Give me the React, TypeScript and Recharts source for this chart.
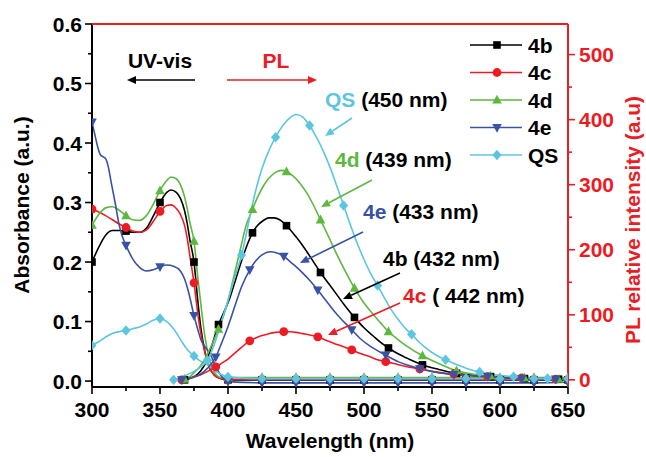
import React from 'react';
import { ComposedChart, Line, XAxis, YAxis } from 'recharts';

const RED = '#ec1c24';
const BLACK = '#000000';
const GREEN = '#5db83f';
const BLUE = '#3a52a4';
const CYAN = '#5cc6e0';
const FONT = '"Liberation Sans", Arial, sans-serif';

const wavelengthTicks = [300, 325, 350, 375, 400, 425, 450, 475, 500, 525, 550, 575, 600, 625, 650];
const absTicks = [0, 0.05, 0.1, 0.15, 0.2, 0.25, 0.3, 0.35, 0.4, 0.45, 0.5, 0.55, 0.6];
const plTicks = [0, 50, 100, 150, 200, 250, 300, 350, 400, 450, 500];

// UV-vis absorbance (left axis)
const abs4b: [number, number][] = [
  [300, 0.2], [305, 0.225], [310, 0.245], [315, 0.253], [320, 0.253], [325, 0.252], [330, 0.25], [335, 0.25],
  [340, 0.257], [345, 0.277], [350, 0.3], [355, 0.317], [358, 0.321], [362, 0.317], [365, 0.307], [368, 0.287],
  [370, 0.265], [372, 0.237], [375, 0.2], [378, 0.13], [380, 0.09], [383, 0.05], [386, 0.025], [390, 0.01],
  [395, 0.004], [400, 0.002], [425, 0.002], [450, 0.002], [475, 0.002], [500, 0.002], [525, 0.002], [550, 0.002],
  [575, 0.002], [600, 0.002], [625, 0.002], [650, 0.002],
];
const abs4c: [number, number][] = [
  [300, 0.289], [305, 0.284], [310, 0.278], [315, 0.271], [320, 0.264], [325, 0.258], [330, 0.252], [335, 0.25],
  [340, 0.254], [345, 0.268], [350, 0.285], [355, 0.295], [358, 0.296], [362, 0.29], [365, 0.28], [368, 0.262],
  [370, 0.24], [372, 0.21], [375, 0.165], [378, 0.11], [380, 0.08], [383, 0.048], [386, 0.025], [390, 0.01],
  [395, 0.004], [400, 0.003], [425, 0.003], [450, 0.003], [475, 0.003], [500, 0.003], [525, 0.003], [550, 0.003],
  [575, 0.003], [600, 0.003], [625, 0.003], [650, 0.003],
];
const abs4d: [number, number][] = [
  [300, 0.262], [305, 0.28], [310, 0.291], [315, 0.293], [320, 0.287], [325, 0.278], [330, 0.271], [335, 0.27],
  [340, 0.278], [345, 0.297], [350, 0.32], [355, 0.337], [358, 0.343], [362, 0.34], [365, 0.33], [368, 0.31],
  [370, 0.29], [372, 0.266], [375, 0.235], [378, 0.17], [380, 0.13], [383, 0.075], [386, 0.04], [390, 0.015],
  [395, 0.006], [400, 0.006], [425, 0.006], [450, 0.006], [475, 0.006], [500, 0.006], [525, 0.006], [550, 0.006],
  [575, 0.006], [600, 0.006], [625, 0.006], [650, 0.006],
];
const abs4e: [number, number][] = [
  [300, 0.435], [302, 0.415], [304, 0.395], [306, 0.381], [308, 0.377], [310, 0.374], [312, 0.36], [314, 0.335],
  [317, 0.3], [320, 0.262], [322, 0.245], [325, 0.228], [330, 0.205], [335, 0.191], [340, 0.185], [345, 0.187],
  [350, 0.192], [355, 0.195], [360, 0.193], [365, 0.185], [368, 0.172], [370, 0.158], [372, 0.14], [375, 0.11],
  [378, 0.085], [380, 0.07], [383, 0.058], [387, 0.045], [390, 0.03], [393, 0.016], [396, 0.006], [400, -0.001],
  [425, -0.003], [450, -0.003], [475, -0.003], [500, -0.003], [525, -0.003], [550, -0.003], [575, -0.003],
  [600, -0.003], [625, -0.003], [650, -0.002],
];
const absQS: [number, number][] = [
  [300, 0.06], [305, 0.066], [310, 0.074], [315, 0.08], [320, 0.083], [325, 0.085], [330, 0.088], [335, 0.091],
  [340, 0.096], [345, 0.102], [350, 0.105], [355, 0.1], [360, 0.088], [365, 0.07], [370, 0.053], [375, 0.042],
  [380, 0.033], [385, 0.027], [390, 0.018], [395, 0.011], [400, 0.007], [425, 0.004], [450, 0.004], [475, 0.004],
  [500, 0.004], [525, 0.004], [550, 0.004], [575, 0.004], [600, 0.004], [625, 0.004], [650, 0.004],
];

// PL relative intensity (right axis)
const pl4b: [number, number][] = [
  [368, 0], [372, 2], [376, 6], [380, 14], [384, 28], [388, 52], [393, 85], [397, 104], [401, 124], [405, 150],
  [410, 183], [414, 207], [418, 226], [422, 238], [426, 245], [430, 249], [434, 249], [438, 246], [443, 237],
  [448, 225], [453, 212], [458, 197], [463, 181], [468, 165], [474, 148], [480, 131], [486, 114], [493, 96],
  [500, 80], [507, 67], [512, 58], [518, 49], [525, 40], [532, 33], [543, 23], [555, 16], [568, 10], [580, 7],
  [593, 5], [605, 3], [618, 2], [630, 2], [643, 1], [650, 1],
];
const pl4c: [number, number][] = [
  [366, 0], [370, 2], [375, 5], [380, 8], [385, 13], [391, 20], [395, 25], [400, 32], [405, 41], [410, 50],
  [416, 60], [420, 64], [425, 68], [430, 71], [435, 73], [441, 74], [446, 74], [450, 73], [455, 71], [460, 69],
  [466, 66], [472, 61], [478, 56], [485, 51], [491, 46], [498, 40], [505, 35], [510, 31], [516, 28], [522, 25],
  [530, 21], [541, 17], [550, 13], [560, 10], [566, 9], [575, 7], [591, 5], [605, 3], [616, 3], [630, 2],
  [641, 1], [650, 1],
];
const pl4d: [number, number][] = [
  [366, 0], [368, 1], [372, 5], [376, 13], [380, 22], [385, 40], [389, 58], [393, 78], [397, 100], [401, 130],
  [405, 165], [409, 200], [413, 235], [418, 262], [422, 282], [426, 298], [430, 310], [435, 319], [439, 322],
  [443, 320], [448, 313], [453, 302], [458, 287], [463, 268], [468, 246], [474, 220], [480, 193], [486, 168],
  [493, 141], [500, 118], [507, 100], [512, 88], [518, 74], [525, 62], [532, 51], [543, 37], [555, 25], [568, 14],
  [580, 9], [593, 6], [605, 4], [618, 3], [630, 2], [643, 1], [650, 1],
];
const pl4e: [number, number][] = [
  [366, 0], [370, 2], [375, 4], [380, 9], [385, 18], [391, 35], [395, 55], [400, 82], [405, 113], [410, 143],
  [416, 169], [420, 182], [425, 192], [431, 197], [436, 195], [441, 190], [446, 181], [450, 174], [455, 164],
  [460, 153], [466, 138], [472, 122], [478, 106], [483, 94], [491, 77], [498, 62], [505, 51], [516, 38], [525, 28],
  [533, 22], [541, 17], [555, 11], [566, 8], [580, 6], [591, 5], [605, 3], [616, 2], [630, 2], [641, 1], [650, 1],
];
const plQS: [number, number][] = [
  [360, 0], [365, 3], [370, 8], [375, 13], [380, 20], [385, 30], [390, 55], [395, 88], [400, 122], [405, 158],
  [410, 192], [415, 240], [420, 288], [425, 325], [430, 352], [435, 373], [440, 390], [445, 402], [450, 408],
  [455, 404], [460, 391], [465, 373], [470, 352], [475, 327], [480, 298], [485, 268], [490, 238], [495, 210],
  [500, 185], [505, 163], [510, 145], [515, 126], [520, 108], [525, 93], [530, 80], [535, 70], [540, 59],
  [545, 50], [550, 42], [555, 36], [560, 31], [570, 22], [575, 18], [585, 12], [590, 10], [600, 7], [610, 5],
  [620, 3], [635, 2], [650, 1],
];

// marker positions (nm)
const uvMarks = [300, 325, 350, 375, 400, 425, 450, 475, 500, 525, 550, 575, 600, 625, 650];
const plMarksQS = [360, 385, 410, 435, 460, 485, 510, 535, 560, 585, 610, 635];
const plMarks4b = [368, 393, 418, 443, 468, 493, 518, 543, 568, 593, 618, 643];
const plMarks4d = [368, 393, 418, 443, 468, 493, 518, 543, 568, 593, 618, 643];
const plMarks4e = [366, 391, 416, 441, 466, 491, 516, 541, 566, 591, 616, 641];
const plMarks4c = [366, 391, 416, 441, 466, 491, 516, 541, 566, 591, 616, 641];

const seriesNames = ['4b', '4c', '4d', '4e', 'QS'];

type Shape = 'square' | 'circle' | 'up' | 'down' | 'diamond';

const MarkerShape = ({ shape, cx, cy, color }: { shape: Shape; cx: number; cy: number; color: string }) => {
  if (shape === 'square') return <rect x={cx - 3.8} y={cy - 3.8} width={7.6} height={7.6} fill={color} />;
  if (shape === 'circle') return <circle cx={cx} cy={cy} r={4.4} fill={color} />;
  if (shape === 'up')
    return <polygon points={`${cx},${cy - 5.2} ${cx - 4.8},${cy + 3.6} ${cx + 4.8},${cy + 3.6}`} fill={color} />;
  if (shape === 'down')
    return <polygon points={`${cx},${cy + 5.2} ${cx - 4.8},${cy - 3.6} ${cx + 4.8},${cy - 3.6}`} fill={color} />;
  return <polygon points={`${cx},${cy - 5.2} ${cx + 4.6},${cy} ${cx},${cy + 5.2} ${cx - 4.6},${cy}`} fill={color} />;
};

const toData = (pts: [number, number][]) => pts.map(([x, y]) => ({ x, y }));

const makeDot = (shape: Shape, color: string, marks: number[]) => (props: any) => {
  const { cx, cy, payload, index } = props;
  if (cx == null || cy == null || !payload || !marks.includes(payload.x)) return <g key={`n${index}`} />;
  return (
    <g key={`d${index}`}>
      <MarkerShape shape={shape} cx={cx} cy={cy} color={color} />
    </g>
  );
};

const LeftTick = (props: any) => {
  const { x, y, payload } = props;
  const v = payload.value as number;
  const major = Math.round(v * 100) % 10 === 0;
  return (
    <g>
      <line x1={x} x2={x - (major ? 7 : 4)} y1={y} y2={y} stroke={BLACK} strokeWidth={1.6} />
      {major && (
        <text x={x - 10} y={y + 7.5} textAnchor="end" fontFamily={FONT} fontWeight="bold" fontSize={21} fill={BLACK}>
          {v.toFixed(1)}
        </text>
      )}
    </g>
  );
};

const RightTick = (props: any) => {
  const { x, y, payload } = props;
  const v = payload.value as number;
  const major = v % 100 === 0;
  return (
    <g>
      <line x1={x} x2={x + (major ? 7 : 4)} y1={y} y2={y} stroke={RED} strokeWidth={1.6} />
      {major && (
        <text x={x + 11} y={y + 7.5} textAnchor="start" fontFamily={FONT} fontWeight="bold" fontSize={21} fill={RED}>
          {v}
        </text>
      )}
    </g>
  );
};

const BottomTick = (props: any) => {
  const { x, y, payload } = props;
  const v = payload.value as number;
  const major = v % 50 === 0;
  return (
    <g>
      <line x1={x} x2={x} y1={y} y2={y + (major ? 7 : 4)} stroke={BLACK} strokeWidth={1.6} />
      {major && (
        <text x={x} y={y + 30} textAnchor="middle" fontFamily={FONT} fontWeight="bold" fontSize={21} fill={BLACK}>
          {v}
        </text>
      )}
    </g>
  );
};

const Arrow = ({ x1, y1, x2, y2, color }: { x1: number; y1: number; x2: number; y2: number; color: string }) => {
  const dx = x2 - x1;
  const dy = y2 - y1;
  const len = Math.sqrt(dx * dx + dy * dy);
  const ux = dx / len;
  const uy = dy / len;
  const hl = 9;
  const hw = 4;
  const bx = x2 - ux * hl;
  const by = y2 - uy * hl;
  return (
    <g>
      <line x1={x1} y1={y1} x2={bx} y2={by} stroke={color} strokeWidth={1.6} />
      <polygon
        points={`${x2},${y2} ${bx - uy * hw},${by + ux * hw} ${bx + uy * hw},${by - ux * hw}`}
        fill={color}
      />
    </g>
  );
};

const uvSeries = [
  { name: seriesNames[0], pts: abs4b, color: BLACK, shape: 'square' as Shape },
  { name: seriesNames[1], pts: abs4c, color: RED, shape: 'circle' as Shape },
  { name: seriesNames[2], pts: abs4d, color: GREEN, shape: 'up' as Shape },
  { name: seriesNames[3], pts: abs4e, color: BLUE, shape: 'down' as Shape },
  { name: seriesNames[4], pts: absQS, color: CYAN, shape: 'diamond' as Shape },
];
const plSeries = [
  { name: seriesNames[0], pts: pl4b, marks: plMarks4b, color: BLACK, shape: 'square' as Shape },
  { name: seriesNames[1], pts: pl4c, marks: plMarks4c, color: RED, shape: 'circle' as Shape },
  { name: seriesNames[2], pts: pl4d, marks: plMarks4d, color: GREEN, shape: 'up' as Shape },
  { name: seriesNames[3], pts: pl4e, marks: plMarks4e, color: BLUE, shape: 'down' as Shape },
  { name: seriesNames[4], pts: plQS, marks: plMarksQS, color: CYAN, shape: 'diamond' as Shape },
];

const T = (p: any) => <text fontFamily={FONT} fontWeight="bold" fontSize={21} {...p} />;

export default function App() {
  return (
    <div style={{ position: 'absolute', left: 0, top: 0, width: 646, height: 457, background: '#fff' }}>
      <ComposedChart width={646} height={457} margin={{ top: 24, right: 28, bottom: 40, left: 32 }}>
        <XAxis
          type="number"
          dataKey="x"
          domain={[300, 650]}
          ticks={wavelengthTicks}
          allowDataOverflow
          height={30}
          tickSize={0}
          tickMargin={0}
          tickLine={false}
          tick={BottomTick}
          axisLine={{ stroke: BLACK, strokeWidth: 2 }}
          interval={0}
        />
        <YAxis
          yAxisId="abs"
          orientation="left"
          domain={[-0.01, 0.6]}
          ticks={absTicks}
          allowDataOverflow
          width={60}
          tickSize={0}
          tickMargin={0}
          tickLine={false}
          tick={LeftTick}
          axisLine={{ stroke: BLACK, strokeWidth: 2 }}
          interval={0}
        />
        <YAxis
          yAxisId="pl"
          orientation="right"
          domain={[-11, 547]}
          ticks={plTicks}
          allowDataOverflow
          width={50}
          tickSize={0}
          tickMargin={0}
          tickLine={false}
          tick={RightTick}
          axisLine={{ stroke: RED, strokeWidth: 2 }}
          interval={0}
        />
        {uvSeries.map((s) => (
          <Line
            key={`uv-${s.name}`}
            yAxisId="abs"
            data={toData(s.pts)}
            dataKey="y"
            type="monotone"
            stroke={s.color}
            strokeWidth={1.6}
            dot={makeDot(s.shape, s.color, uvMarks)}
            activeDot={false}
            isAnimationActive={false}
            legendType="none"
          />
        ))}
        {plSeries.map((s) => (
          <Line
            key={`pl-${s.name}`}
            yAxisId="pl"
            data={toData(s.pts)}
            dataKey="y"
            type="monotone"
            stroke={s.color}
            strokeWidth={1.6}
            dot={makeDot(s.shape, s.color, s.marks)}
            activeDot={false}
            isAnimationActive={false}
            legendType="none"
          />
        ))}
      </ComposedChart>
      <svg
        width={646}
        height={457}
        style={{ position: 'absolute', left: 0, top: 0, pointerEvents: 'none' }}
      >
        <line x1={92} x2={568} y1={24} y2={24} stroke={RED} strokeWidth={2} />
        {/* axis titles */}
        <T x={0} y={0} transform="translate(29,205) rotate(-90)" textAnchor="middle" fill={BLACK}>
          Absorbance (a.u.)
        </T>
        <T x={0} y={0} transform="translate(640,220) rotate(-90)" textAnchor="middle" fill={RED}>
          PL relative intensity (a.u)
        </T>
        <T x={330} y={448} textAnchor="middle" fill={BLACK}>
          Wavelength (nm)
        </T>
        {/* UV-vis / PL */}
        <T x={160} y={68} textAnchor="middle" fill={BLACK}>UV-vis</T>
        <Arrow x1={195} y1={80} x2={127} y2={80} color={BLACK} />
        <T x={276} y={68} textAnchor="middle" fill={RED}>PL</T>
        <Arrow x1={227} y1={80} x2={317} y2={80} color={RED} />
        {/* peak annotations */}
        <T x={325} y={107} fill={BLACK}>
          <tspan fill={CYAN}>QS</tspan> (450 nm)
        </T>
        <Arrow x1={352} y1={118} x2={325} y2={136} color={CYAN} />
        <T x={335} y={167} fill={BLACK}>
          <tspan fill={GREEN}>4d</tspan> (439 nm)
        </T>
        <Arrow x1={372} y1={180} x2={321} y2={207} color={GREEN} />
        <T x={363} y={219} fill={BLACK}>
          <tspan fill={BLUE}>4e</tspan> (433 nm)
        </T>
        <Arrow x1={363} y1={232} x2={300} y2={263} color={BLUE} />
        <T x={383} y={266} fill={BLACK}>4b (432 nm)</T>
        <Arrow x1={400} y1={273} x2={343} y2={299} color={BLACK} />
        <T x={403} y={303} fill={BLACK}>
          <tspan fill={RED}>4c</tspan> ( 442 nm)
        </T>
        <Arrow x1={400} y1={303} x2={328} y2={335} color={RED} />
        {/* legend */}
        {plSeries.map((s, i) => {
          const y = 45 + i * 27.5;
          return (
            <g key={`lg-${s.name}`}>
              <line x1={470} x2={522} y1={y} y2={y} stroke={s.color} strokeWidth={1.6} />
              <MarkerShape shape={s.shape} cx={497} cy={y} color={s.color} />
              <T x={528} y={y + 7.5} fill={BLACK}>{s.name}</T>
            </g>
          );
        })}
      </svg>
    </div>
  );
}
